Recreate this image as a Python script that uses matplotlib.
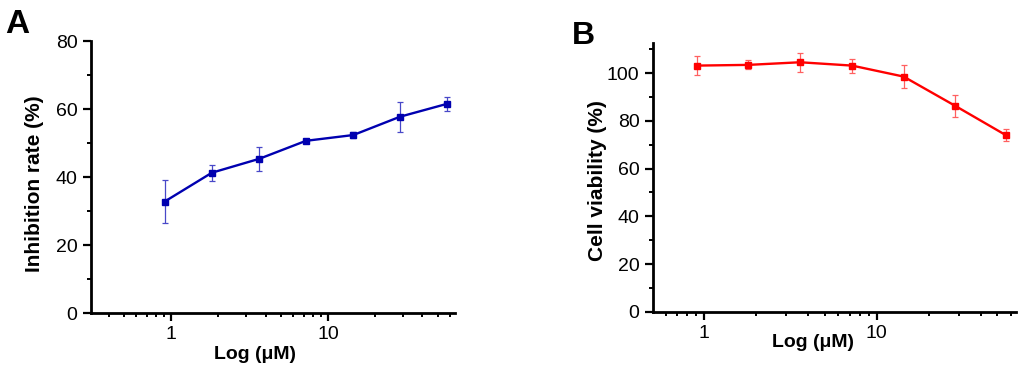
import numpy as np
import matplotlib
matplotlib.use("Agg")
import matplotlib.pyplot as plt
from matplotlib.ticker import LogLocator, NullFormatter, MultipleLocator, FixedLocator, FixedFormatter

plt.rcParams['font.family'] = ['Liberation Sans', 'DejaVu Sans']

# Data
conc_a = [0.91, 1.82, 3.65, 7.24, 14.5, 28.8, 57.5]
inhibition = [32.8, 41.3, 45.4, 50.7, 52.4, 57.8, 61.6]
inhibition_err = [6.3, 2.3, 3.6, 0.6, 0.9, 4.4, 2.1]

conc_b = [0.91, 1.81, 3.6, 7.2, 14.3, 28.5, 56.0]
viability = [103.2, 103.5, 104.6, 103.2, 98.6, 86.3, 74.0]
viability_err = [3.9, 1.9, 3.9, 2.9, 4.9, 4.7, 2.6]

x_ticks = [1, 10]
x_ticklabels = ["1", "10"]

fig = plt.figure(figsize=(10.24, 3.71), dpi=100)
axA = fig.add_axes([0.0886, 0.1563, 0.3557, 0.7324])
axB = fig.add_axes([0.6374, 0.1598, 0.3548, 0.7251])

def style(ax):
    for s in ['top', 'right']:
        ax.spines[s].set_visible(False)
    for s in ['left', 'bottom']:
        ax.spines[s].set_linewidth(2.0)
    ax.set_xscale('log')
    ax.xaxis.set_major_locator(FixedLocator(x_ticks))
    ax.xaxis.set_major_formatter(FixedFormatter(x_ticklabels))
    ax.xaxis.set_minor_locator(LogLocator(base=10, subs=np.arange(2, 10)))
    ax.xaxis.set_minor_formatter(NullFormatter())
    ax.yaxis.set_major_locator(MultipleLocator(20))
    ax.yaxis.set_minor_locator(MultipleLocator(10))
    ax.tick_params(which='major', direction='out', length=5.5, width=1.6, labelsize=14, pad=4)
    ax.tick_params(which='minor', direction='out', length=3, width=1.4)

# Panel A
axA.errorbar(conc_a, inhibition, yerr=inhibition_err, color='#0000b0', lw=1.7,
             marker='s', ms=4.3, elinewidth=0.9, capsize=2.5, capthick=0.9, ecolor='#4848c8')
style(axA)
axA.set_xlim(0.308, 64.4)
axA.set_ylim(0, 80)
axA.set_xlabel('Log (μM)', fontsize=14, fontweight='bold')
axA.xaxis.set_label_coords(0.451, -0.121)
axA.set_ylabel('Inhibition rate (%)', fontsize=15, fontweight='bold')
axA.yaxis.set_label_coords(-0.128, 0.477)

# Panel B
axB.errorbar(conc_b, viability, yerr=viability_err, color='#ff0000', lw=1.7,
             marker='s', ms=4.3, elinewidth=0.9, capsize=2.5, capthick=0.9, ecolor='#ff6060')
style(axB)
axB.set_xlim(0.505, 64)
axB.set_ylim(0, 112.8)
axB.set_xlabel('Log (μM)', fontsize=14, fontweight='bold')
axB.xaxis.set_label_coords(0.44, -0.083)
axB.set_ylabel('Cell viability (%)', fontsize=15, fontweight='bold')
axB.yaxis.set_label_coords(-0.127, 0.489)

fig.text(0.005, 0.933, 'A', fontsize=24, fontweight='bold', va='center', ha='left')
fig.text(0.558, 0.903, 'B', fontsize=23, fontweight='bold', va='center', ha='left')

fig.savefig('out.png', dpi=100)
